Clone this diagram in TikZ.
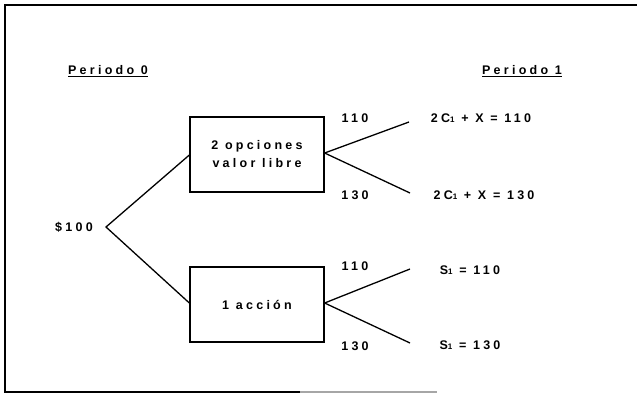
\documentclass[tikz,border=0pt]{standalone}
\usepackage{fontspec}
\setmainfont{Liberation Sans}[LetterSpace=26]
\begin{document}
\begin{tikzpicture}[x=1pt,y=-1pt,
  txt/.style={font=\bfseries\fontsize{12.5}{15}\selectfont, inner sep=0pt},
  boxnode/.style={draw, line width=1.3pt, minimum width=134pt, minimum height=75pt, align=center, inner sep=0pt, font=\bfseries\fontsize{12.5}{18}\selectfont},
  conn/.style={line width=1.3pt},
  frame/.style={line width=1.3pt}]
\useasboundingbox (0,0) rectangle (637,394);
% frame
\coordinate (tl) at (5,5);
\coordinate (tr) at (637,5);
\coordinate (bl) at (5,392);
\coordinate (bm) at (300,392);
\coordinate (br) at (437,392);
\draw[frame] (tr) -- (tl) -- (bl) -- (bm);
\draw[frame, black!35] (bm) -- (br);
% headings
\node[txt] (p0) at (108,71) {\underline{Periodo 0}};
\node[txt] (p1) at (522,71) {\underline{Periodo 1}};
% boxes
\node[boxnode] (b1) at (257,154.5) {2 opciones\\valor libre};
\node[boxnode] (b2) at (257,304.5) {1 acción};
% root
\coordinate (apex) at (106,227);
\node[txt, anchor=east] (root) at (93,227) {\$100};
\draw[conn] (b1.west |- 0,155) -- (apex) -- (b2.west |- 0,303);
% leaves
\coordinate (l1) at (409,122);
\coordinate (l2) at (410,193);
\coordinate (l3) at (410,269);
\coordinate (l4) at (410,343);
\draw[conn] (l1) -- (b1.east |- 0,153) -- (l2);
\draw[conn] (l3) -- (b2.east |- 0,303) -- (l4);
% branch labels
\node[txt] (v1) at (355,118) {110};
\node[txt] (v2) at (355,195) {130};
\node[txt] (v3) at (355,266) {110};
\node[txt] (v4) at (355,346) {130};
% outcomes
\node[txt] (o1) at (481,118) {2C{\fontsize{8}{9}\selectfont\raisebox{-0.5pt}{1}} + X = 110};
\node[txt] (o2) at (484,195) {2C{\fontsize{8}{9}\selectfont\raisebox{-0.5pt}{1}} + X = 130};
\node[txt] (o3) at (470,270) {S{\fontsize{8}{9}\selectfont\raisebox{-0.5pt}{1}} = 110};
\node[txt] (o4) at (470,345) {S{\fontsize{8}{9}\selectfont\raisebox{-0.5pt}{1}} = 130};
\end{tikzpicture}
\end{document}
